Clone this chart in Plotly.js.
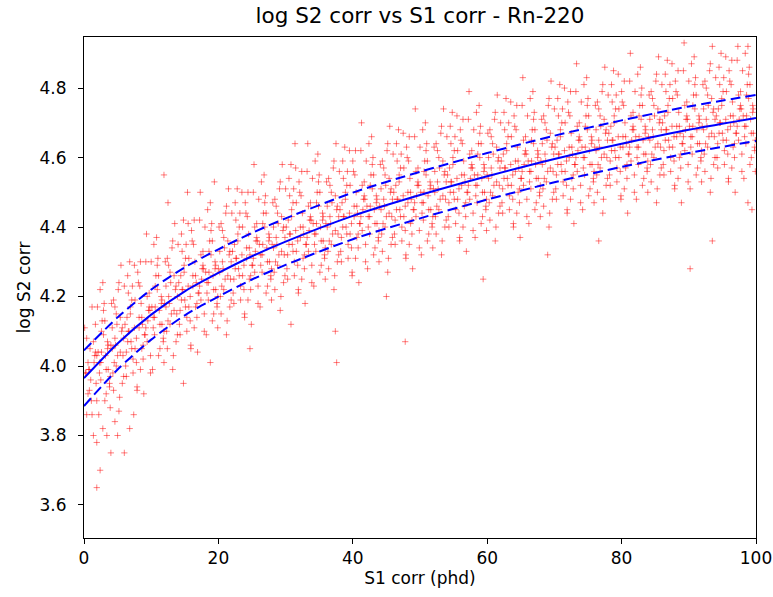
<!DOCTYPE html>
<html>
<head>
<meta charset="utf-8">
<script src="https://cdn.plot.ly/plotly-3.0.1.min.js"></script>
<style>html,body{margin:0;padding:0;background:#fff;}#chart{width:773px;height:597px;}</style>
</head>
<body>
<div id="chart"></div>
<script>
// Scatter points (S1 corr, log S2 corr) estimated from the reference cloud - part 1
const sx = [
0.3,0.6,0.9,1.2,1.5,1.8,0.4,1.1,1.7,0.8,1.4,1.9,
2.1,3.3,2.6,3.8,2.9,2.3,3.5,3.1,2.4,3.9,2.7,3.2,2.2,3.6,3.0,2.5,2.4,1.9,4.0,1.9,2.8,3.4,
5.4,4.2,5.7,4.8,4.0,5.1,4.5,5.9,5.3,4.6,4.3,5.5,4.9,5.8,4.4,5.2,6.0,5.0,4.6,
6.1,7.3,6.6,7.8,6.9,6.3,7.5,7.1,6.4,7.9,6.7,7.2,6.2,7.6,7.0,6.5,6.8,7.4,
9.4,8.2,9.7,8.8,8.0,9.1,8.5,9.9,9.3,8.6,8.3,9.5,8.9,9.8,8.4,9.2,
10.1,11.3,10.6,11.8,10.9,10.3,11.5,11.1,10.4,11.9,10.7,11.2,10.2,11.6,11.0,10.5,11.9,12.5,
13.4,12.2,13.7,12.8,12.0,13.1,12.5,13.9,13.3,12.6,12.3,13.5,12.9,13.8,12.4,13.2,
14.1,15.3,14.6,15.8,14.9,14.3,15.5,15.1,14.4,15.9,14.7,15.2,14.2,15.6,15.0,14.5,15.4,14.8,
17.4,16.2,17.7,16.8,16.0,17.1,16.5,17.9,17.3,16.6,16.3,17.5,16.9,17.8,16.4,17.2,
18.1,19.3,18.6,19.8,18.9,18.3,19.5,19.1,18.4,19.9,18.7,19.2,18.2,19.6,19.0,18.5,19.4,18.8,
21.4,20.2,21.7,20.8,20.0,21.1,20.5,21.9,21.3,20.6,20.3,21.5,20.9,21.8,20.4,21.2,
22.1,23.3,22.6,23.8,22.9,22.3,23.5,23.1,22.4,23.9,22.7,23.2,22.2,23.6,23.0,22.5,
25.4,24.2,25.7,24.8,24.0,25.1,24.5,25.9,25.3,24.6,24.3,25.5,24.9,25.8,24.4,25.2,24.7,
26.1,27.3,26.6,27.8,26.9,26.3,27.5,27.1,26.4,27.9,26.7,27.2,26.2,27.6,27.0,26.5,
29.4,28.2,29.7,28.8,28.0,29.1,28.5,29.9,29.3,28.6,28.3,29.5,28.9,29.8,28.4,29.2,
30.1,31.3,30.6,31.8,30.9,30.3,31.5,31.1,30.4,31.9,30.7,31.2,30.2,31.6,31.0,30.5,31.4,30.8,
33.4,32.2,33.7,32.8,32.0,33.1,32.5,33.9,33.3,32.6,32.3,33.5,32.9,33.8,32.4,33.2,
34.1,35.3,34.6,35.8,34.9,34.3,35.5,35.1,34.4,35.9,34.7,35.2,34.2,35.6,35.0,34.5,
37.4,36.2,37.7,36.8,36.0,37.1,36.5,37.9,37.3,36.6,36.3,37.5,36.9,37.8,36.4,37.2,37.6,37.4,
38.1,39.3,38.6,39.8,38.9,38.3,39.5,39.1,38.4,39.9,38.7,39.2,38.2,39.6,39.0,38.5,
41.4,40.2,41.7,40.8,40.0,41.1,40.5,41.9,41.3,40.6,40.3,41.5,40.9,41.8,40.4,41.2,
42.1,43.3,42.6,43.8,42.9,42.3,43.5,43.1,42.4,43.9,42.7,43.2,42.2,43.6,43.0,42.5,
45.4,44.2,45.7,44.8,44.0,45.1,44.5,45.9,45.3,44.6,44.3,45.5,44.9,45.8,44.4,45.2,45.0,
46.1,47.3,46.6,47.8,46.9,46.3,47.5,47.1,46.4,47.9,46.7,47.2,46.2,47.6,47.0,46.5,47.8,
49.4,48.2,49.7,48.8,48.0,49.1,48.5,49.9,49.3,48.6,48.3,49.5,48.9,49.8,48.4,49.2,
50.1,51.3,50.6,51.8,50.9,50.3,51.5,51.1,50.4,51.9,50.7,51.2,50.2,51.6,51.0,50.5,
53.4,52.2,53.7,52.8,52.0,53.1,52.5,53.9,53.3,52.6,52.3,53.5,52.9,53.8,52.4,53.2,
54.1,55.3,54.6,55.8,54.9,54.3,55.5,55.1,54.4,55.9,54.7,55.2,54.2,55.6,55.0,54.5,
57.4,56.2,57.7,56.8,56.0,57.1,56.5,57.9,57.3,56.6,56.3,57.5,56.9,57.8,56.4,57.2,
58.1,59.3,58.6,59.8,58.9,58.3,59.5,59.1,58.4,59.9,58.7,59.2,58.2,59.6,59.0,58.5,59.4,
61.4,60.2,61.7,60.8,60.0,61.1,60.5,61.9,61.3,60.6,60.3,61.5,60.9,61.8,60.4,61.2,
62.1,63.3,62.6,63.8,62.9,62.3,63.5,63.1,62.4,63.9,62.7,63.2,62.2,63.6,63.0,62.5,
65.4,64.2,65.7,64.8,64.0,65.1,64.5,65.9,65.3,64.6,64.3,65.5,64.9,65.8,64.4,65.2,
66.1,67.3,66.6,67.8,66.9,66.3,67.5,67.1,66.4,67.9,66.7,67.2,66.2,67.6,67.0,66.5,
69.4,68.2,69.7,68.8,68.0,69.1,68.5,69.9,69.3,68.6,68.3,69.5,68.9,69.8,68.4,69.2,69.0,
70.1,71.3,70.6,71.8,70.9,70.3,71.5,71.1,70.4,71.9,70.7,71.2,70.2,71.6,71.0,70.5,
73.4,72.2,73.7,72.8,72.0,73.1,72.5,73.9,73.3,72.6,72.3,73.5,72.9,73.8,72.4,73.2,
74.1,75.3,74.6,75.8,74.9,74.3,75.5,75.1,74.4,75.9,74.7,75.2,74.2,75.6,75.0,74.5,
77.4,76.2,77.7,76.8,76.0,77.1,76.5,77.9,77.3,76.6,76.3,77.5,76.9,77.8,76.4,77.2,76.6,
78.1,79.3,78.6,79.8,78.9,78.3,79.5,79.1,78.4,79.9,78.7,79.2,78.2,79.6,79.0,78.5,
81.4,80.2,81.7,80.8,80.0,81.1,80.5,81.9,81.3,80.6,80.3,81.5,80.9,81.8,80.4,81.2,
82.1,83.3,82.6,83.8,82.9,82.3,83.5,83.1,82.4,83.9,82.7,83.2,82.2,83.6,83.0,82.5,
85.4,84.2,85.7,84.8,84.0,85.1,84.5,85.9,85.3,84.6,84.3,85.5,84.9,85.8,84.4,85.2,
86.1,87.3,86.6,87.8,86.9,86.3,87.5,87.1,86.4,87.9,86.7,87.2,86.2,87.6,87.0,86.5,
89.4,88.2,89.7,88.8,88.0,89.1,88.5,89.9,89.3,88.6,88.3,89.5,88.9,89.8,88.4,89.2,90.2,93.5,
90.1,91.3,90.6,91.8,90.9,90.3,91.5,91.1,90.4,91.9,90.7,91.2,90.2,91.6,91.0,90.5,
93.4,92.2,93.7,92.8,92.0,93.1,92.5,93.9,93.3,92.6,92.3,93.5,92.9,93.8,92.4,93.2,
94.1,95.3,94.6,95.8,94.9,94.3,95.5,95.1,94.4,95.9,94.7,95.2,94.2,95.6,95.0,94.5,
97.4,96.2,97.7,96.8,96.0,97.1,96.5,97.9,97.3,96.6,96.3,97.5,96.9,97.8,96.4,97.2,
98.1,99.3,98.6,99.8,98.9,98.3,99.5,99.1,98.4,99.9,98.7,99.2,98.2,99.6,99.0,98.5,99.4,98.8
];
const sy = [
3.98,3.92,4.05,3.86,4.01,3.95,4.08,3.90,4.12,3.99,3.80,4.03,
4.04,3.99,4.10,3.94,4.16,4.01,4.07,3.90,4.22,3.97,4.13,4.03,3.86,4.06,4.18,3.96,3.70,3.65,3.75,3.78,3.82,3.80,
4.04,4.11,3.95,4.15,4.06,4.22,4.01,4.08,3.91,4.17,3.98,4.29,4.12,4.03,4.19,3.87,3.75,3.80,3.84,
4.12,4.02,4.21,4.08,4.17,3.97,4.29,4.05,4.14,3.93,4.10,4.23,4.00,4.19,4.07,4.26,3.82,3.86,
4.07,4.14,4.21,4.02,4.27,4.09,4.18,3.98,4.38,4.05,4.23,4.13,3.92,4.16,4.30,4.11,
4.17,4.12,4.23,4.07,4.29,4.14,4.20,4.03,4.35,4.10,4.26,4.16,3.99,4.19,4.31,4.09,4.55,4.47,
4.16,4.23,4.07,4.27,4.18,4.34,4.13,4.20,4.03,4.29,4.10,4.41,4.24,4.15,4.31,3.99,
4.24,4.14,4.33,4.20,4.29,4.09,4.41,4.17,4.26,4.05,4.22,4.35,4.12,4.31,4.19,4.38,4.50,3.95,
4.19,4.26,4.33,4.14,4.39,4.21,4.30,4.10,4.50,4.17,4.35,4.25,4.04,4.28,4.42,4.23,
4.27,4.22,4.33,4.17,4.39,4.24,4.30,4.13,4.45,4.20,4.36,4.26,4.09,4.29,4.41,4.19,4.53,4.01,
4.26,4.33,4.17,4.37,4.28,4.44,4.23,4.30,4.13,4.39,4.20,4.51,4.34,4.25,4.41,4.09,
4.33,4.23,4.42,4.29,4.38,4.18,4.50,4.26,4.35,4.14,4.31,4.44,4.21,4.40,4.28,4.47,
4.27,4.34,4.41,4.22,4.47,4.29,4.38,4.18,4.58,4.25,4.43,4.33,4.12,4.36,4.50,4.31,4.05,
4.35,4.30,4.41,4.25,4.47,4.32,4.38,4.21,4.53,4.28,4.44,4.34,4.17,4.37,4.49,4.27,
4.33,4.40,4.24,4.44,4.35,4.51,4.30,4.37,4.20,4.46,4.27,4.58,4.41,4.32,4.48,4.16,
4.40,4.30,4.49,4.36,4.45,4.25,4.57,4.33,4.42,4.21,4.38,4.51,4.28,4.47,4.35,4.54,4.64,4.12,
4.33,4.40,4.47,4.28,4.53,4.35,4.44,4.24,4.64,4.31,4.49,4.39,4.18,4.42,4.56,4.37,
4.41,4.36,4.47,4.31,4.53,4.38,4.44,4.27,4.59,4.34,4.50,4.40,4.23,4.43,4.55,4.33,
4.39,4.46,4.30,4.50,4.41,4.57,4.36,4.43,4.26,4.52,4.33,4.64,4.47,4.38,4.54,4.22,4.01,4.10,
4.45,4.35,4.54,4.41,4.50,4.30,4.62,4.38,4.47,4.26,4.43,4.56,4.33,4.52,4.40,4.59,
4.39,4.46,4.53,4.34,4.59,4.41,4.50,4.30,4.70,4.37,4.55,4.45,4.24,4.48,4.62,4.43,
4.46,4.41,4.52,4.36,4.58,4.43,4.49,4.32,4.64,4.39,4.55,4.45,4.28,4.48,4.60,4.38,
4.44,4.51,4.35,4.55,4.46,4.62,4.41,4.48,4.31,4.57,4.38,4.69,4.52,4.43,4.59,4.27,4.20,
4.50,4.40,4.59,4.46,4.55,4.35,4.67,4.43,4.52,4.31,4.48,4.61,4.38,4.57,4.45,4.64,4.07,
4.43,4.50,4.57,4.38,4.63,4.45,4.54,4.34,4.74,4.41,4.59,4.49,4.28,4.52,4.66,4.47,
4.50,4.45,4.56,4.40,4.62,4.47,4.53,4.36,4.68,4.43,4.59,4.49,4.32,4.52,4.64,4.42,
4.49,4.56,4.40,4.60,4.51,4.67,4.46,4.53,4.36,4.62,4.43,4.74,4.57,4.48,4.64,4.32,
4.55,4.45,4.64,4.51,4.60,4.40,4.72,4.48,4.57,4.36,4.53,4.66,4.43,4.62,4.50,4.69,
4.48,4.55,4.62,4.43,4.68,4.50,4.59,4.39,4.79,4.46,4.64,4.54,4.33,4.57,4.71,4.52,
4.55,4.50,4.61,4.45,4.67,4.52,4.58,4.41,4.73,4.48,4.64,4.54,4.37,4.57,4.69,4.47,4.25,
4.53,4.60,4.44,4.64,4.55,4.71,4.50,4.57,4.40,4.66,4.47,4.78,4.61,4.52,4.68,4.36,
4.59,4.49,4.68,4.55,4.64,4.44,4.76,4.52,4.61,4.40,4.57,4.70,4.47,4.66,4.54,4.73,
4.52,4.59,4.66,4.47,4.72,4.54,4.63,4.43,4.83,4.50,4.68,4.58,4.37,4.61,4.75,4.56,
4.59,4.54,4.65,4.49,4.71,4.56,4.62,4.45,4.77,4.52,4.68,4.58,4.41,4.61,4.73,4.51,
4.57,4.64,4.48,4.68,4.59,4.75,4.54,4.61,4.44,4.70,4.51,4.82,4.65,4.56,4.72,4.40,4.32,
4.63,4.53,4.72,4.59,4.68,4.48,4.80,4.56,4.65,4.44,4.61,4.74,4.51,4.70,4.58,4.77,
4.56,4.63,4.70,4.51,4.76,4.58,4.67,4.47,4.87,4.54,4.72,4.62,4.41,4.65,4.79,4.60,
4.63,4.58,4.69,4.53,4.75,4.60,4.66,4.49,4.81,4.56,4.72,4.62,4.45,4.65,4.77,4.55,
4.61,4.68,4.52,4.72,4.63,4.79,4.58,4.65,4.48,4.74,4.55,4.86,4.69,4.60,4.76,4.44,4.36,
4.67,4.57,4.76,4.63,4.72,4.52,4.84,4.60,4.69,4.48,4.65,4.78,4.55,4.74,4.62,4.81,
4.59,4.66,4.73,4.54,4.79,4.61,4.70,4.50,4.90,4.57,4.75,4.65,4.44,4.68,4.82,4.63,
4.66,4.61,4.72,4.56,4.78,4.63,4.69,4.52,4.84,4.59,4.75,4.65,4.48,4.68,4.80,4.58,
4.64,4.71,4.55,4.75,4.66,4.82,4.61,4.68,4.51,4.77,4.58,4.89,4.72,4.63,4.79,4.47,
4.70,4.60,4.79,4.66,4.75,4.55,4.87,4.63,4.72,4.51,4.68,4.81,4.58,4.77,4.65,4.84,
4.62,4.69,4.76,4.57,4.82,4.64,4.73,4.53,4.93,4.60,4.78,4.68,4.47,4.71,4.85,4.66,4.28,4.36,
4.69,4.64,4.75,4.59,4.81,4.66,4.72,4.55,4.87,4.62,4.78,4.68,4.51,4.71,4.83,4.61,
4.67,4.74,4.58,4.78,4.69,4.85,4.64,4.71,4.54,4.80,4.61,4.92,4.75,4.66,4.82,4.50,
4.72,4.62,4.81,4.68,4.77,4.57,4.89,4.65,4.74,4.53,4.70,4.83,4.60,4.79,4.67,4.86,
4.65,4.72,4.79,4.60,4.85,4.67,4.76,4.56,4.92,4.63,4.81,4.71,4.50,4.74,4.88,4.69,
4.72,4.67,4.78,4.62,4.84,4.69,4.75,4.58,4.90,4.65,4.81,4.71,4.54,4.74,4.86,4.64,4.45,4.47
];
// part 2 of the cloud
const sx2 = [
0.2,1.6,0.8,1.4,0.6,1.9,0.1,1.0,1.7,0.4,1.2,0.7,
3.5,2.3,3.1,2.5,3.8,2.9,3.3,2.0,2.6,3.6,2.8,3.9,
4.2,5.6,4.8,5.4,4.6,5.9,4.1,5.0,5.7,4.4,5.2,4.7,
7.5,6.3,7.1,6.5,7.8,6.9,7.3,6.0,6.6,7.6,6.8,7.9,
8.2,9.6,8.8,9.4,8.6,9.9,8.1,9.0,9.7,8.4,9.2,8.7,
11.5,10.3,11.1,10.5,11.8,10.9,11.3,10.0,10.6,11.6,10.8,11.9,
12.2,13.6,12.8,13.4,12.6,13.9,12.1,13.0,13.7,12.4,13.2,12.7,
15.5,14.3,15.1,14.5,15.8,14.9,15.3,14.0,14.6,15.6,14.8,15.9,
16.2,17.6,16.8,17.4,16.6,17.9,16.1,17.0,17.7,16.4,17.2,16.7,
19.5,18.3,19.1,18.5,19.8,18.9,19.3,18.0,18.6,19.6,18.8,19.9,
20.2,21.6,20.8,21.4,20.6,21.9,20.1,21.0,21.7,20.4,21.2,20.7,
23.5,22.3,23.1,22.5,23.8,22.9,23.3,22.0,22.6,23.6,22.8,23.9,
24.2,25.6,24.8,25.4,24.6,25.9,24.1,25.0,25.7,24.4,25.2,24.7,
27.5,26.3,27.1,26.5,27.8,26.9,27.3,26.0,26.6,27.6,26.8,27.9,
28.2,29.6,28.8,29.4,28.6,29.9,28.1,29.0,29.7,28.4,29.2,28.7,
31.5,30.3,31.1,30.5,31.8,30.9,31.3,30.0,30.6,31.6,30.8,31.9,
32.2,33.6,32.8,33.4,32.6,33.9,32.1,33.0,33.7,32.4,33.2,32.7,
35.5,34.3,35.1,34.5,35.8,34.9,35.3,34.0,34.6,35.6,34.8,35.9,
36.2,37.6,36.8,37.4,36.6,37.9,36.1,37.0,37.7,36.4,37.2,36.7,
39.5,38.3,39.1,38.5,39.8,38.9,39.3,38.0,38.6,39.6,38.8,39.9,
40.2,41.6,40.8,41.4,40.6,41.9,40.1,41.0,41.7,40.4,41.2,40.7,
43.5,42.3,43.1,42.5,43.8,42.9,43.3,42.0,42.6,43.6,42.8,43.9,
44.2,45.6,44.8,45.4,44.6,45.9,44.1,45.0,45.7,44.4,45.2,44.7,
47.5,46.3,47.1,46.5,47.8,46.9,47.3,46.0,46.6,47.6,46.8,47.9,
48.2,49.6,48.8,49.4,48.6,49.9,48.1,49.0,49.7,48.4,49.2,48.7,
51.5,50.3,51.1,50.5,51.8,50.9,51.3,50.0,50.6,51.6,50.8,51.9,
52.2,53.6,52.8,53.4,52.6,53.9,52.1,53.0,53.7,52.4,53.2,52.7,
55.5,54.3,55.1,54.5,55.8,54.9,55.3,54.0,54.6,55.6,54.8,55.9,
56.2,57.6,56.8,57.4,56.6,57.9,56.1,57.0,57.7,56.4,57.2,56.7,
59.5,58.3,59.1,58.5,59.8,58.9,59.3,58.0,58.6,59.6,58.8,59.9,
60.2,61.6,60.8,61.4,60.6,61.9,60.1,61.0,61.7,60.4,61.2,60.7,
63.5,62.3,63.1,62.5,63.8,62.9,63.3,62.0,62.6,63.6,62.8,63.9,
64.2,65.6,64.8,65.4,64.6,65.9,64.1,65.0,65.7,64.4,65.2,64.7,
67.5,66.3,67.1,66.5,67.8,66.9,67.3,66.0,66.6,67.6,66.8,67.9,
68.2,69.6,68.8,69.4,68.6,69.9,68.1,69.0,69.7,68.4,69.2,68.7,
71.5,70.3,71.1,70.5,71.8,70.9,71.3,70.0,70.6,71.6,70.8,71.9,
72.2,73.6,72.8,73.4,72.6,73.9,72.1,73.0,73.7,72.4,73.2,72.7,
75.5,74.3,75.1,74.5,75.8,74.9,75.3,74.0,74.6,75.6,74.8,75.9,
76.2,77.6,76.8,77.4,76.6,77.9,76.1,77.0,77.7,76.4,77.2,76.7,
79.5,78.3,79.1,78.5,79.8,78.9,79.3,78.0,78.6,79.6,78.8,79.9,
80.2,81.6,80.8,81.4,80.6,81.9,80.1,81.0,81.7,80.4,81.2,80.7,
83.5,82.3,83.1,82.5,83.8,82.9,83.3,82.0,82.6,83.6,82.8,83.9,
84.2,85.6,84.8,85.4,84.6,85.9,84.1,85.0,85.7,84.4,85.2,84.7,
87.5,86.3,87.1,86.5,87.8,86.9,87.3,86.0,86.6,87.6,86.8,87.9,
88.2,89.6,88.8,89.4,88.6,89.9,88.1,89.0,89.7,88.4,89.2,88.7,
91.5,90.3,91.1,90.5,91.8,90.9,91.3,90.0,90.6,91.6,90.8,91.9,
92.2,93.6,92.8,93.4,92.6,93.9,92.1,93.0,93.7,92.4,93.2,92.7,
95.5,94.3,95.1,94.5,95.8,94.9,95.3,94.0,94.6,95.6,94.8,95.9,
96.2,97.6,96.8,97.4,96.6,97.9,96.1,97.0,97.7,96.4,97.2,96.7,
99.5,98.3,99.1,98.5,99.8,98.9,99.3,98.0,98.6,99.6,98.8,99.9
];
const sy2 = [
3.98,4.03,3.93,4.07,4.01,3.90,4.11,3.96,4.04,3.86,4.17,3.99,
4.05,3.98,4.13,4.01,3.95,4.09,3.92,4.17,4.04,3.99,4.24,3.88,
4.05,4.10,4.00,4.14,4.08,3.97,4.18,4.03,4.11,3.93,4.24,4.06,
4.11,4.04,4.19,4.07,4.01,4.15,3.98,4.23,4.10,4.05,4.30,3.94,
4.11,4.16,4.06,4.20,4.14,4.03,4.24,4.09,4.17,3.99,4.30,4.12,
4.18,4.11,4.26,4.14,4.08,4.22,4.05,4.30,4.17,4.12,4.37,4.01,
4.17,4.22,4.12,4.26,4.20,4.09,4.30,4.15,4.23,4.05,4.36,4.18,
4.23,4.16,4.31,4.19,4.13,4.27,4.10,4.35,4.22,4.17,4.42,4.06,
4.23,4.28,4.18,4.32,4.26,4.15,4.36,4.21,4.29,4.11,4.42,4.24,
4.28,4.21,4.36,4.24,4.18,4.32,4.15,4.40,4.27,4.22,4.47,4.11,
4.27,4.32,4.22,4.36,4.30,4.19,4.40,4.25,4.33,4.15,4.46,4.28,
4.32,4.25,4.40,4.28,4.22,4.36,4.19,4.44,4.31,4.26,4.51,4.15,
4.31,4.36,4.26,4.40,4.34,4.23,4.44,4.29,4.37,4.19,4.50,4.32,
4.36,4.29,4.44,4.32,4.26,4.40,4.23,4.48,4.35,4.30,4.55,4.19,
4.34,4.39,4.29,4.43,4.37,4.26,4.47,4.32,4.40,4.22,4.53,4.35,
4.39,4.32,4.47,4.35,4.29,4.43,4.26,4.51,4.38,4.33,4.58,4.22,
4.37,4.42,4.32,4.46,4.40,4.29,4.50,4.35,4.43,4.25,4.56,4.38,
4.42,4.35,4.50,4.38,4.32,4.46,4.29,4.54,4.41,4.36,4.61,4.25,
4.40,4.45,4.35,4.49,4.43,4.32,4.53,4.38,4.46,4.28,4.59,4.41,
4.44,4.37,4.52,4.40,4.34,4.48,4.31,4.56,4.43,4.38,4.63,4.27,
4.43,4.48,4.38,4.52,4.46,4.35,4.56,4.41,4.49,4.31,4.62,4.44,
4.47,4.40,4.55,4.43,4.37,4.51,4.34,4.59,4.46,4.41,4.66,4.30,
4.45,4.50,4.40,4.54,4.48,4.37,4.58,4.43,4.51,4.33,4.64,4.46,
4.49,4.42,4.57,4.45,4.39,4.53,4.36,4.61,4.48,4.43,4.68,4.32,
4.47,4.52,4.42,4.56,4.50,4.39,4.60,4.45,4.53,4.35,4.66,4.48,
4.51,4.44,4.59,4.47,4.41,4.55,4.38,4.63,4.50,4.45,4.70,4.34,
4.50,4.55,4.45,4.59,4.53,4.42,4.63,4.48,4.56,4.38,4.69,4.51,
4.54,4.47,4.62,4.50,4.44,4.58,4.41,4.66,4.53,4.48,4.73,4.37,
4.52,4.57,4.47,4.61,4.55,4.44,4.65,4.50,4.58,4.40,4.71,4.53,
4.56,4.49,4.64,4.52,4.46,4.60,4.43,4.68,4.55,4.50,4.75,4.39,
4.54,4.59,4.49,4.63,4.57,4.46,4.67,4.52,4.60,4.42,4.73,4.55,
4.58,4.51,4.66,4.54,4.48,4.62,4.45,4.70,4.57,4.52,4.77,4.41,
4.56,4.61,4.51,4.65,4.59,4.48,4.69,4.54,4.62,4.44,4.75,4.57,
4.60,4.53,4.68,4.56,4.50,4.64,4.47,4.72,4.59,4.54,4.79,4.43,
4.58,4.63,4.53,4.67,4.61,4.50,4.71,4.56,4.64,4.46,4.77,4.59,
4.62,4.55,4.70,4.58,4.52,4.66,4.49,4.74,4.61,4.56,4.81,4.45,
4.60,4.65,4.55,4.69,4.63,4.52,4.73,4.58,4.66,4.48,4.79,4.61,
4.64,4.57,4.72,4.60,4.54,4.68,4.51,4.76,4.63,4.58,4.83,4.47,
4.62,4.67,4.57,4.71,4.65,4.54,4.75,4.60,4.68,4.50,4.81,4.63,
4.66,4.59,4.74,4.62,4.56,4.70,4.53,4.78,4.65,4.60,4.85,4.49,
4.63,4.68,4.58,4.72,4.66,4.55,4.76,4.61,4.69,4.51,4.82,4.64,
4.67,4.60,4.75,4.63,4.57,4.71,4.54,4.79,4.66,4.61,4.86,4.50,
4.65,4.70,4.60,4.74,4.68,4.57,4.78,4.63,4.71,4.53,4.84,4.66,
4.69,4.62,4.77,4.65,4.59,4.73,4.56,4.81,4.68,4.63,4.88,4.52,
4.66,4.71,4.61,4.75,4.69,4.58,4.79,4.64,4.72,4.54,4.85,4.67,
4.70,4.63,4.78,4.66,4.60,4.74,4.57,4.82,4.69,4.64,4.89,4.53,
4.68,4.73,4.63,4.77,4.71,4.60,4.81,4.66,4.74,4.56,4.87,4.69,
4.71,4.64,4.79,4.67,4.61,4.75,4.58,4.83,4.70,4.65,4.90,4.54,
4.69,4.74,4.64,4.78,4.72,4.61,4.82,4.67,4.75,4.57,4.88,4.70,
4.73,4.66,4.81,4.69,4.63,4.77,4.60,4.85,4.72,4.67,4.92,4.56
];

// Fitted curve and band
const fitX     = [0, 5, 10, 15, 20, 25, 30, 40, 50, 60, 70, 80, 90, 100];
const fitMid   = [3.965, 4.065, 4.148, 4.215, 4.268, 4.316, 4.358, 4.432, 4.492, 4.546, 4.596, 4.640, 4.680, 4.714];
const fitUpper = [4.045, 4.140, 4.220, 4.284, 4.336, 4.383, 4.425, 4.499, 4.559, 4.613, 4.663, 4.707, 4.747, 4.780];
const fitLower = [3.885, 3.990, 4.076, 4.146, 4.200, 4.249, 4.291, 4.365, 4.425, 4.479, 4.529, 4.573, 4.613, 4.648];

const xTicks = [0, 20, 40, 60, 80, 100];
const yTicks = [3.6, 3.8, 4.0, 4.2, 4.4, 4.6, 4.8];

const font = "DejaVu Sans, sans-serif";
const dotStyle = { symbol: "cross-thin", size: 4.5, color: "rgba(255,0,0,0.5)",
                   line: { color: "rgba(255,0,0,0.5)", width: 1 } };

const traces = [
  { type: "scatter", mode: "markers", x: sx, y: sy, hoverinfo: "skip", marker: dotStyle },
  { type: "scatter", mode: "markers", x: sx2, y: sy2, hoverinfo: "skip", marker: dotStyle },
  { type: "scatter", mode: "lines", x: fitX, y: fitMid,
    line: { color: "#0000ff", width: 2, shape: "spline", smoothing: 0.8 } },
  { type: "scatter", mode: "lines", x: fitX, y: fitUpper,
    line: { color: "#0000ff", width: 2, dash: "10px,5px", shape: "spline", smoothing: 0.8 } },
  { type: "scatter", mode: "lines", x: fitX, y: fitLower,
    line: { color: "#0000ff", width: 2, dash: "10px,5px", shape: "spline", smoothing: 0.8 } }
];

const layout = {
  width: 773, height: 597,
  paper_bgcolor: "#fff", plot_bgcolor: "#fff",
  margin: { l: 84, r: 17, t: 37, b: 59 },
  showlegend: false,
  hovermode: false,
  font: { family: font, size: 17, color: "#000" },
  title: { text: "log S2 corr vs S1 corr - Rn-220", xref: "paper", x: 0.5, xanchor: "center",
           yref: "container", y: 0.974, yanchor: "middle",
           font: { family: font, size: 21.5, color: "#000" } },
  xaxis: {
    range: [0, 100], tickvals: xTicks, ticktext: xTicks.map(String),
    showline: true, mirror: true, linecolor: "#000", linewidth: 1,
    ticks: "outside", ticklen: 5, tickcolor: "#000", showgrid: false, zeroline: false,
    tickfont: { family: font, size: 17 },
    title: { text: "S1 corr (phd)", font: { family: font, size: 17 }, standoff: 4 }
  },
  yaxis: {
    range: [3.505, 4.947], tickvals: yTicks, ticktext: yTicks.map(v => v.toFixed(1)),
    showline: true, mirror: true, linecolor: "#000", linewidth: 1,
    ticks: "outside", ticklen: 5, tickcolor: "#000", showgrid: false, zeroline: false,
    ticklabelstandoff: 8,
    tickfont: { family: font, size: 17 },
    title: { text: "log S2 corr", font: { family: font, size: 17 }, standoff: 4 }
  }
};

Plotly.newPlot("chart", traces, layout, { staticPlot: true, displayModeBar: false });
</script>
</body>
</html>
